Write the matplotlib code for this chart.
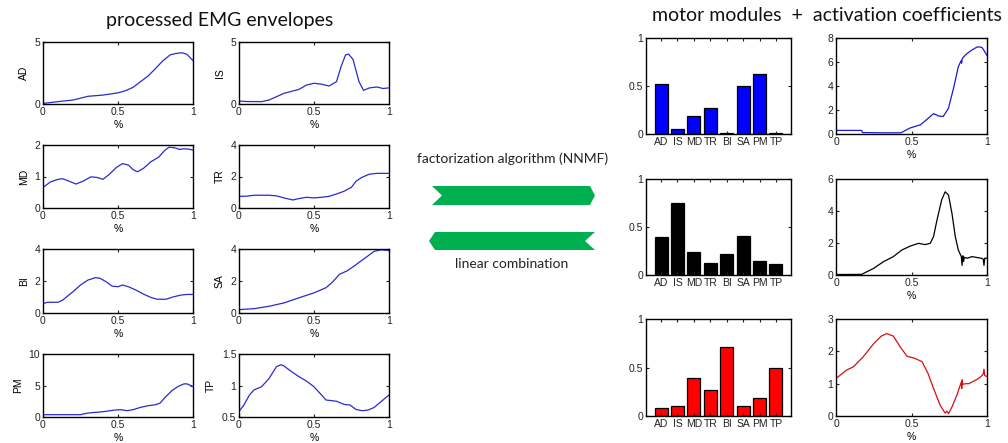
import matplotlib
matplotlib.use("Agg")
import matplotlib.pyplot as plt
from matplotlib.patches import Polygon

W, H = 1008, 443

# ---- EMG envelopes (normalised cycle, %) ----
muscles = ["AD", "IS", "MD", "TR", "BI", "SA", "PM", "TP"]

ad_x = [0, 0.1, 0.2, 0.3, 0.4, 0.5, 0.55, 0.6, 0.65, 0.7, 0.75, 0.8, 0.85, 0.9, 0.93, 0.96, 1.0]
ad_y = [0.05, 0.19, 0.32, 0.62, 0.72, 0.9, 1.07, 1.34, 1.8, 2.25, 2.86, 3.5, 3.98, 4.1, 4.13, 4.0, 3.5]

is_x = [0, 0.05, 0.15, 0.2, 0.3, 0.4, 0.45, 0.5, 0.55, 0.6, 0.65, 0.68, 0.71, 0.73, 0.76, 0.8, 0.83, 0.87, 0.92, 0.96, 1.0]
is_y = [0.24, 0.2, 0.19, 0.32, 0.86, 1.18, 1.53, 1.67, 1.6, 1.45, 1.8, 3.0, 3.95, 4.03, 3.6, 1.8, 1.1, 1.3, 1.37, 1.25, 1.3]

md_x = [0, 0.05, 0.1, 0.13, 0.17, 0.22, 0.27, 0.32, 0.36, 0.4, 0.44, 0.49, 0.53, 0.57, 0.6, 0.63, 0.67,
        0.72, 0.77, 0.81, 0.84, 0.88, 0.91, 0.94, 0.97, 1.0]
md_y = [0.65, 0.83, 0.91, 0.93, 0.86, 0.76, 0.86, 0.99, 0.97, 0.91, 1.06, 1.29, 1.41, 1.36, 1.22, 1.15, 1.26,
        1.47, 1.61, 1.82, 1.93, 1.91, 1.86, 1.88, 1.87, 1.84]

tr_x = [0, 0.05, 0.1, 0.2, 0.25, 0.3, 0.36, 0.4, 0.45, 0.5, 0.55, 0.6, 0.65, 0.7, 0.75, 0.78, 0.82, 0.87, 0.92, 1.0]
tr_y = [0.74, 0.75, 0.81, 0.81, 0.77, 0.64, 0.51, 0.6, 0.68, 0.64, 0.68, 0.74, 0.89, 1.06, 1.32, 1.7, 1.95, 2.15, 2.2, 2.2]

bi_x = [0, 0.03, 0.1, 0.13, 0.2, 0.25, 0.3, 0.35, 0.38, 0.42, 0.46, 0.5, 0.53, 0.57, 0.62, 0.67, 0.72,
        0.76, 0.82, 0.87, 0.92, 0.96, 1.0]
bi_y = [0.59, 0.67, 0.67, 0.8, 1.33, 1.75, 2.06, 2.21, 2.17, 1.96, 1.68, 1.64, 1.75, 1.64, 1.43, 1.18, 0.97,
        0.86, 0.86, 1.01, 1.12, 1.16, 1.16]

sa_x = [0, 0.1, 0.2, 0.3, 0.4, 0.5, 0.58, 0.62, 0.67, 0.72, 0.77, 0.8, 0.85, 0.9, 0.95, 1.0]
sa_y = [0.21, 0.27, 0.42, 0.63, 0.95, 1.26, 1.58, 1.9, 2.42, 2.63, 2.95, 3.16, 3.5, 3.85, 3.95, 3.9]

pm_x = [0, 0.25, 0.3, 0.4, 0.48, 0.52, 0.56, 0.6, 0.65, 0.7, 0.75, 0.78, 0.82, 0.86, 0.9, 0.94, 0.96, 0.98, 1.0]
pm_y = [0.37, 0.37, 0.63, 0.84, 1.1, 1.16, 1.0, 1.16, 1.53, 1.79, 1.95, 2.2, 3.26, 4.2, 4.84, 5.26, 5.26, 5.05, 4.84]

tp_x = [0, 0.03, 0.07, 0.1, 0.15, 0.2, 0.25, 0.28, 0.3, 0.35, 0.4, 0.45, 0.5, 0.55, 0.58, 0.65, 0.7, 0.74,
        0.78, 0.82, 0.86, 0.9, 0.95, 1.0]
tp_y = [0.59, 0.68, 0.85, 0.93, 0.98, 1.11, 1.3, 1.33, 1.31, 1.22, 1.14, 1.07, 0.98, 0.85, 0.77, 0.75, 0.7, 0.69,
        0.62, 0.6, 0.61, 0.65, 0.75, 0.85]

emg_x = [ad_x, is_x, md_x, tr_x, bi_x, sa_x, pm_x, tp_x]
emg_y = [ad_y, is_y, md_y, tr_y, bi_y, sa_y, pm_y, tp_y]
emg_yticks = [[0, 5], [0, 5], [0, 1, 2], [0, 2, 4], [0, 2, 4], [0, 2, 4], [0, 5, 10], [0.5, 1, 1.5]]
emg_yticklabels = [["0", "5"], ["0", "5"], ["0", "1", "2"], ["0", "2", "4"], ["0", "2", "4"],
                   ["0", "2", "4"], ["0", "5", "10"], ["0.5", "1", "1.5"]]

# ---- motor modules (weights) ----
module1 = [0.52, 0.05, 0.19, 0.27, 0.01, 0.50, 0.62, 0.01]
module2 = [0.40, 0.75, 0.24, 0.12, 0.22, 0.41, 0.15, 0.11]
module3 = [0.08, 0.10, 0.39, 0.27, 0.71, 0.10, 0.19, 0.50]

# ---- activation coefficients ----
act1_x = [0, 0.17, 0.175, 0.3, 0.43, 0.49, 0.56, 0.61, 0.646, 0.68, 0.71, 0.745, 0.78, 0.81, 0.828, 0.832,
          0.836, 0.867, 0.9, 0.934, 0.955, 0.967, 0.978, 1.0]
act1_y = [0.3, 0.3, 0.12, 0.1, 0.1, 0.5, 0.77, 1.3, 1.7, 1.5, 1.46, 2.15, 3.9, 5.6, 6.1, 5.9, 6.3, 6.7, 7.0,
          7.25, 7.25, 7.2, 7.0, 6.55]

act2_x = [0, 0.17, 0.25, 0.314, 0.38, 0.436, 0.49, 0.546, 0.59, 0.624, 0.646, 0.668, 0.70, 0.723, 0.745,
          0.768, 0.79, 0.81, 0.83, 0.835, 0.84, 0.845, 0.85, 0.87, 0.9, 0.93, 0.96, 0.975, 0.98, 0.985, 1.0]
act2_y = [0.03, 0.04, 0.42, 0.83, 1.15, 1.56, 1.8, 1.98, 1.9, 1.98, 2.4, 3.4, 4.7, 5.2, 5.0,
          3.85, 2.4, 1.56, 1.15, 0.6, 1.2, 0.85, 1.1, 1.05, 1.15, 1.1, 1.05, 1.0, 0.6, 1.05, 1.05]

act3_x = [0, 0.07, 0.115, 0.18, 0.25, 0.30, 0.336, 0.38, 0.425, 0.47, 0.524, 0.57, 0.61, 0.646, 0.69,
          0.723, 0.735, 0.745, 0.768, 0.80, 0.83, 0.833, 0.836, 0.84, 0.86, 0.88, 0.9, 0.93, 0.96, 0.975,
          0.98, 0.985, 1.0]
act3_y = [1.16, 1.42, 1.52, 1.83, 2.24, 2.47, 2.55, 2.47, 2.14, 1.85, 1.78, 1.68, 1.31, 0.85, 0.33,
          0.09, 0.15, 0.07, 0.28, 0.64, 1.05, 0.85, 1.12, 0.98, 1.0, 1.0, 1.05, 1.12, 1.22, 1.3,
          1.45, 1.25, 1.22]

act_x = [act1_x, act2_x, act3_x]
act_y = [act1_y, act2_y, act3_y]
act_ylim = [8, 6, 3]
act_yticks = [[0, 2, 4, 6, 8], [0, 2, 4, 6], [0, 1, 2, 3]]
modules = [module1, module2, module3]
colors = ["#0000ff", "#000000", "#ff0000"]
act_colors = ["#1a1ad6", "#000000", "#d41010"]

plt.rcParams["font.family"] = ["Liberation Sans", "DejaVu Sans"]

fig = plt.figure(figsize=(W / 100, H / 100), dpi=100)
fig.patch.set_facecolor("white")


def box(x0, y0, x1, y1):
    """Axes rectangle from pixel edges (top-left origin)."""
    return [x0 / W, 1 - y1 / H, (x1 - x0) / W, (y1 - y0) / H]


def style(ax):
    ax.tick_params(direction="in", length=2.5, width=0.8, top=True, right=True,
                   labelsize=7.5, pad=2, colors="#222222")
    for s in ax.spines.values():
        s.set_linewidth(1.0)
        s.set_color("black")


# left: EMG envelopes, two columns by four rows
col_x = [(43, 193), (239, 389)]
row_y = [(42, 104), (145, 208), (249, 313), (354, 417)]
for i in range(8):
    r, c = divmod(i, 2)
    ax = fig.add_axes(box(col_x[c][0], row_y[r][0], col_x[c][1], row_y[r][1]))
    ax.plot(emg_x[i], emg_y[i], color="#2a2ad2", lw=0.9)
    ax.set_xlim(0, 1)
    yt = emg_yticks[i]
    ax.set_ylim(yt[0], yt[-1])
    ax.set_xticks([0, 0.5, 1])
    ax.set_xticklabels(["0", "0.5", "1"])
    ax.set_yticks(yt)
    ax.set_yticklabels(emg_yticklabels[i])
    ax.set_xlabel("%", fontsize=7.5, labelpad=2)
    ax.set_ylabel(muscles[i], fontsize=7.5, labelpad=4)
    style(ax)

# right: modules and activations
bar_x = (646, 791)
act_xr = (836, 987)
rows_r = [(38, 134), (179, 275), (319, 416)]
pos = list(range(1, 9))
for k in range(3):
    ax = fig.add_axes(box(bar_x[0], rows_r[k][0], bar_x[1], rows_r[k][1]))
    ax.bar(pos, modules[k], width=0.8, color=colors[k], edgecolor="black", linewidth=0.9)
    ax.set_xlim(0.08, 8.92)
    ax.set_ylim(0, 1)
    ax.set_xticks(pos)
    ax.set_xticklabels(muscles)
    ax.set_yticks([0, 0.5, 1])
    ax.set_yticklabels(["0", "0.5", "1"])
    style(ax)
    ax.tick_params(axis="x", labelsize=7.5, pad=2)

    ax2 = fig.add_axes(box(act_xr[0], rows_r[k][0], act_xr[1], rows_r[k][1]))
    ax2.plot(act_x[k], act_y[k], color=act_colors[k], lw=0.9)
    ax2.set_xlim(0, 1)
    ax2.set_ylim(0, act_ylim[k])
    ax2.set_xticks([0, 0.5, 1])
    ax2.set_xticklabels(["0", "0.5", "1"])
    ax2.set_yticks(act_yticks[k])
    ax2.set_xlabel("%", fontsize=7.5, labelpad=2)
    style(ax2)

# overlay for headings and arrows
ov = fig.add_axes([0, 0, 1, 1], zorder=-1)
ov.set_xlim(0, W)
ov.set_ylim(H, 0)
ov.axis("off")

title_font = ["Lato", "DejaVu Sans"]
ov.text(219.5, 20, "processed EMG envelopes", fontsize=14, family=title_font,
        ha="center", va="center", color="#111111")
ov.text(826.5, 15, "motor modules  +  activation coefficients", fontsize=14, family=title_font,
        ha="center", va="center", color="#111111")
ov.text(513, 159, "factorization algorithm (NNMF)", fontsize=10, family=title_font,
        ha="center", va="center", color="#222222")
ov.text(512, 264, "linear combination", fontsize=10, family=title_font,
        ha="center", va="center", color="#222222")

green = "#00b050"
ov.add_patch(Polygon([(432, 186), (590, 186), (595, 195.5), (590, 205), (432, 205), (442, 195.5)],
                     closed=True, facecolor=green, edgecolor="none"))
ov.add_patch(Polygon([(429, 241), (435, 232), (595, 232), (585, 241), (595, 250), (435, 250)],
                     closed=True, facecolor=green, edgecolor="none"))

fig.savefig("out.png", dpi=100)
